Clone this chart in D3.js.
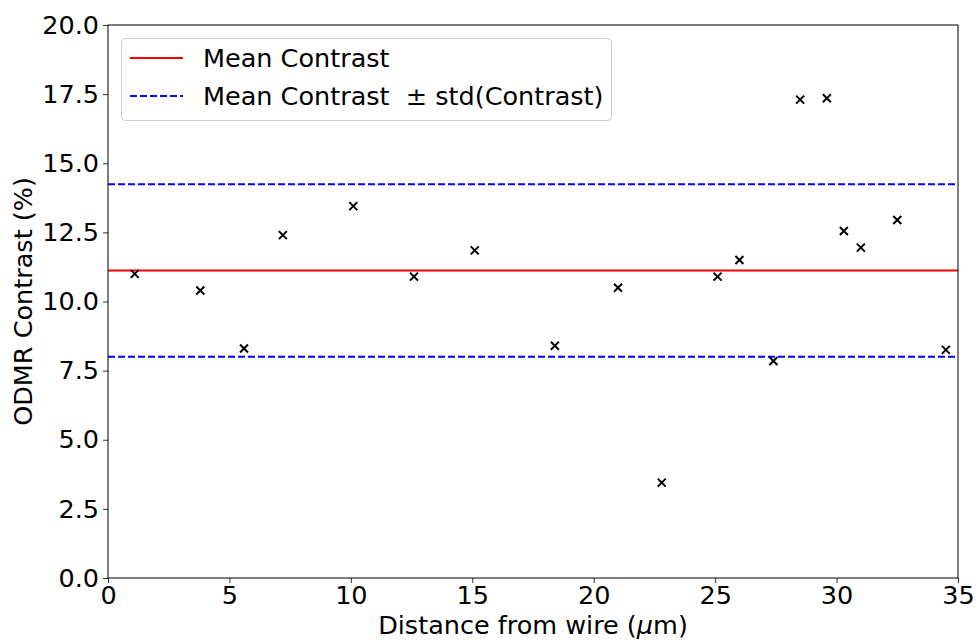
<!DOCTYPE html>
<html>
<head>
<meta charset="utf-8">
<script src="https://cdn.jsdelivr.net/npm/d3@7"></script>
<style>
  html, body { margin: 0; padding: 0; background: #fff; }
  text { font-family: "DejaVu Sans", sans-serif; }
</style>
</head>
<body>
<svg id="chart" width="978" height="642"></svg>
<script>
// Data
const distance = [1.1, 3.8, 5.6, 7.2, 10.1, 12.6, 15.1, 18.4, 21.0, 22.8, 25.1, 26.0, 27.4, 28.5, 29.6, 30.3, 31.0, 32.5, 34.5];
const contrast = [11.0, 10.4, 8.3, 12.4, 13.45, 10.9, 11.85, 8.4, 10.5, 3.45, 10.9, 11.5, 7.85, 17.3, 17.35, 12.55, 11.95, 12.95, 8.25];
const xTicks = [0, 5, 10, 15, 20, 25, 30, 35];
const yTicks = [0, 2.5, 5, 7.5, 10, 12.5, 15, 17.5, 20];
const legendLabels = ["Mean Contrast", "Mean Contrast  \u00B1 std(Contrast)"];

const meanC = d3.mean(contrast);
const stdC = Math.sqrt(d3.mean(contrast, v => (v - meanC) * (v - meanC)));

const svg = d3.select("#chart");
const m = { left: 108, right: 20, top: 25, bottom: 64 };
const W = 978, H = 642;
const FS = "25.5px";

const x = d3.scaleLinear().domain([0, 35]).range([m.left, W - m.right]);
const y = d3.scaleLinear().domain([0, 20]).range([H - m.bottom, m.top]);

// Axes
const xAxis = d3.axisBottom(x).tickValues(xTicks).tickFormat(d3.format("d")).tickSizeOuter(0).tickSize(5).tickPadding(3);
const yAxis = d3.axisLeft(y).tickValues(yTicks).tickFormat(d3.format(".1f")).tickSizeOuter(0).tickSize(5).tickPadding(4);

const gx = svg.append("g").attr("transform", `translate(0,${H - m.bottom})`).call(xAxis);
const gy = svg.append("g").attr("transform", `translate(${m.left},0)`).call(yAxis);
[gx, gy].forEach(g => {
  g.select(".domain").remove();
  g.selectAll("text").style("font-size", FS).attr("fill", "#000");
  g.selectAll("line").attr("stroke", "#333").attr("stroke-width", 1);
});

// Reference lines
const lines = svg.append("g");
lines.append("line")
  .attr("x1", x(0)).attr("x2", x(35))
  .attr("y1", y(meanC)).attr("y2", y(meanC))
  .attr("stroke", "#ff0000").attr("stroke-width", 2);
[meanC + stdC, meanC - stdC].forEach(v => {
  lines.append("line")
    .attr("x1", x(0)).attr("x2", x(35))
    .attr("y1", y(v)).attr("y2", y(v))
    .attr("stroke", "#0000ff").attr("stroke-width", 2)
    .attr("stroke-dasharray", "7,3");
});

// Points (x markers)
const pts = svg.append("g");
const s = 4;
distance.forEach((d, i) => {
  const cx = x(d), cy = y(contrast[i]);
  pts.append("path")
    .attr("d", `M${cx - s},${cy - s}L${cx + s},${cy + s}M${cx - s},${cy + s}L${cx + s},${cy - s}`)
    .attr("stroke", "#000").attr("stroke-width", 2).attr("fill", "none");
});

// Spines
const sp = svg.append("g").attr("fill", "none").attr("stroke", "#000").attr("stroke-width", 1);
sp.append("rect").attr("x", m.left).attr("y", m.top)
  .attr("width", W - m.right - m.left).attr("height", H - m.bottom - m.top);

// Axis labels
svg.append("text")
  .attr("x", (m.left + W - m.right) / 2).attr("y", 634)
  .attr("text-anchor", "middle").style("font-size", FS)
  .html('Distance from wire (<tspan font-style="italic">\u03BC</tspan>m)');
svg.append("text")
  .attr("transform", `translate(32,${(m.top + H - m.bottom) / 2}) rotate(-90)`)
  .attr("text-anchor", "middle").style("font-size", FS)
  .text("ODMR Contrast (%)");

// Legend
const lg = svg.append("g");
lg.append("rect").attr("x", 121.5).attr("y", 38.5).attr("width", 490).attr("height", 82)
  .attr("rx", 4).attr("fill", "#fff").attr("fill-opacity", 0.8)
  .attr("stroke", "#ccc").attr("stroke-width", 1);
lg.append("line").attr("x1", 130).attr("x2", 183).attr("y1", 58).attr("y2", 58)
  .attr("stroke", "#ff0000").attr("stroke-width", 2);
lg.append("line").attr("x1", 130).attr("x2", 183).attr("y1", 96).attr("y2", 96)
  .attr("stroke", "#0000ff").attr("stroke-width", 2).attr("stroke-dasharray", "7,3");
lg.append("text").attr("x", 203).attr("y", 67).style("font-size", FS).text(legendLabels[0]);
lg.append("text").attr("x", 203).attr("y", 105).style("font-size", FS)
  .attr("xml:space", "preserve").style("white-space", "pre").text(legendLabels[1]);
</script>
</body>
</html>
